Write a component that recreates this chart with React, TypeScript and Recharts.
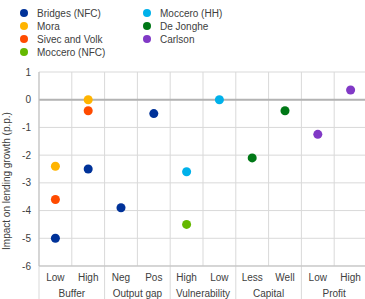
import React from "react";
import {
  ScatterChart,
  Scatter,
  XAxis,
  YAxis,
  CartesianGrid,
  ReferenceLine,
  ReferenceDot,
  Legend,
} from "recharts";

// category slots along the x axis, two per group
const categories = ["Low", "High", "Neg", "Pos", "High", "Low", "Less", "Well", "Low", "High"];
const groups = ["Buffer", "Output gap", "Vulnerability", "Capital", "Profit"];
const yTicks = [-6, -5, -4, -3, -2, -1, 0, 1];
const yLabel = "Impact on lending growth (p.p.)";

// [category index, impact in p.p.]
const bridgesNfc = [[0, -5.0], [1, -2.5], [2, -3.9], [3, -0.5]];
const mora = [[0, -2.4], [1, 0.0]];
const sivecVolk = [[0, -3.6], [1, -0.4]];
const mocceroNfc = [[4, -4.5]];
const mocceroHh = [[4, -2.6], [5, 0.0]];
const deJonghe = [[6, -2.1], [7, -0.4]];
const carlson = [[8, -1.25], [9, 0.35]];

const series = [
  { name: "Bridges (NFC)", color: "#003299", pts: bridgesNfc },
  { name: "Mora", color: "#FFB400", pts: mora },
  { name: "Sivec and Volk", color: "#FF4B00", pts: sivecVolk },
  { name: "Moccero (NFC)", color: "#65B800", pts: mocceroNfc },
  { name: "Moccero (HH)", color: "#00B1EA", pts: mocceroHh },
  { name: "De Jonghe", color: "#007816", pts: deJonghe },
  { name: "Carlson", color: "#8139C6", pts: carlson },
];

const FONT = "'Liberation Sans', Arial, sans-serif";
const TXT = "#404040";
const GRID = "#d9d9d9";
const AXIS = "#bfbfbf";

const boundaries = categories.map((_, i) => i).concat(categories.length);
const catCenters = categories.map((_, i) => i + 0.5);
const groupBounds = boundaries.filter((b) => b % 2 === 0);
const groupCenters = groups.map((_, i) => i * 2 + 1);

function LegendBox() {
  return (
    <div style={{ position: "relative", width: 300, height: 60, fontFamily: FONT }}>
      {series.map((s, i) => {
        const col = i < 4 ? 0 : 1;
        const row = i < 4 ? i : i - 4;
        return (
          <div
            key={s.name}
            style={{
              position: "absolute",
              left: 20 + col * 123,
              top: 6.5 + row * 13,
              height: 13,
              display: "flex",
              alignItems: "center",
              fontSize: 10,
              color: TXT,
              whiteSpace: "nowrap",
            }}
          >
            <span
              style={{
                width: 8,
                height: 8,
                borderRadius: "50%",
                background: s.color,
                marginRight: 9,
                display: "inline-block",
              }}
            />
            {s.name}
          </div>
        );
      })}
    </div>
  );
}

// vertical grid at every category boundary
function verticalGrid({ xAxis, offset }: any) {
  if (xAxis && typeof xAxis.scale === "function") return boundaries.map((b) => xAxis.scale(b));
  return boundaries.map((b) => offset.left + (b / categories.length) * offset.width);
}

export default function App() {
  return (
    <div
      style={{
        position: "fixed",
        left: 0,
        top: 0,
        width: 365,
        height: 299,
        overflow: "hidden",
        background: "#fff",
        fontFamily: FONT,
      }}
    >
      <ScatterChart width={367} height={302} margin={{ top: 72, right: 0, bottom: 0, left: 0 }}>
        <CartesianGrid xAxisId="cat" stroke={GRID} verticalCoordinatesGenerator={verticalGrid} />
        <XAxis
          xAxisId="cat"
          type="number"
          dataKey="x"
          domain={[0, 10]}
          ticks={catCenters}
          interval={0}
          height={36}
          tickSize={0}
          tickMargin={8}
          tickLine={false}
          axisLine={{ stroke: AXIS }}
          tickFormatter={(v: number) => categories[Math.floor(v)]}
          tick={{ fontSize: 10, fill: TXT, fontFamily: FONT }}
        />
        <YAxis
          type="number"
          dataKey="y"
          domain={[-6, 1]}
          ticks={yTicks}
          interval={0}
          width={39}
          tickSize={0}
          tickMargin={8}
          tickLine={false}
          axisLine={{ stroke: AXIS }}
          tick={{ fontSize: 10, fill: TXT, fontFamily: FONT }}
          label={{
            value: yLabel,
            angle: -90,
            position: "insideLeft",
            dx: 1.5,
            dy: 12,
            style: { textAnchor: "middle", fontSize: 10, fill: TXT, fontFamily: FONT },
          }}
        />
        {/* group separators run down through the label rows */}
        {groupBounds.map((b) => (
          <ReferenceLine
            key={b}
            xAxisId="cat"
            ifOverflow="visible"
            segment={[{ x: b, y: -6 }, { x: b, y: -7.3 }]}
            stroke={GRID}
          />
        ))}
        {/* group names under the category labels */}
        {groupCenters.map((c, i) => (
          <ReferenceDot
            key={groups[i]}
            xAxisId="cat"
            x={c}
            y={-7.0}
            r={0}
            stroke="none"
            fill="none"
            ifOverflow="visible"
            label={{
              value: groups[i],
              position: "center",
              fontSize: 10,
              fill: TXT,
              fontFamily: FONT,
            }}
          />
        ))}
        <ReferenceLine xAxisId="cat" y={0} stroke="#b3b3b3" strokeWidth={2} />
        <Legend
          layout="horizontal"
          verticalAlign="middle"
          align="center"
          wrapperStyle={{ position: "absolute", top: 0, left: 0, width: 300 }}
          content={() => <LegendBox />}
        />
        {series.map((s) => (
          <Scatter
            key={s.name}
            name={s.name}
            xAxisId="cat"
            data={s.pts.map(([c, v]) => ({ x: c + 0.5, y: v }))}
            fill={s.color}
            isAnimationActive={false}
          />
        ))}
      </ScatterChart>
    </div>
  );
}
